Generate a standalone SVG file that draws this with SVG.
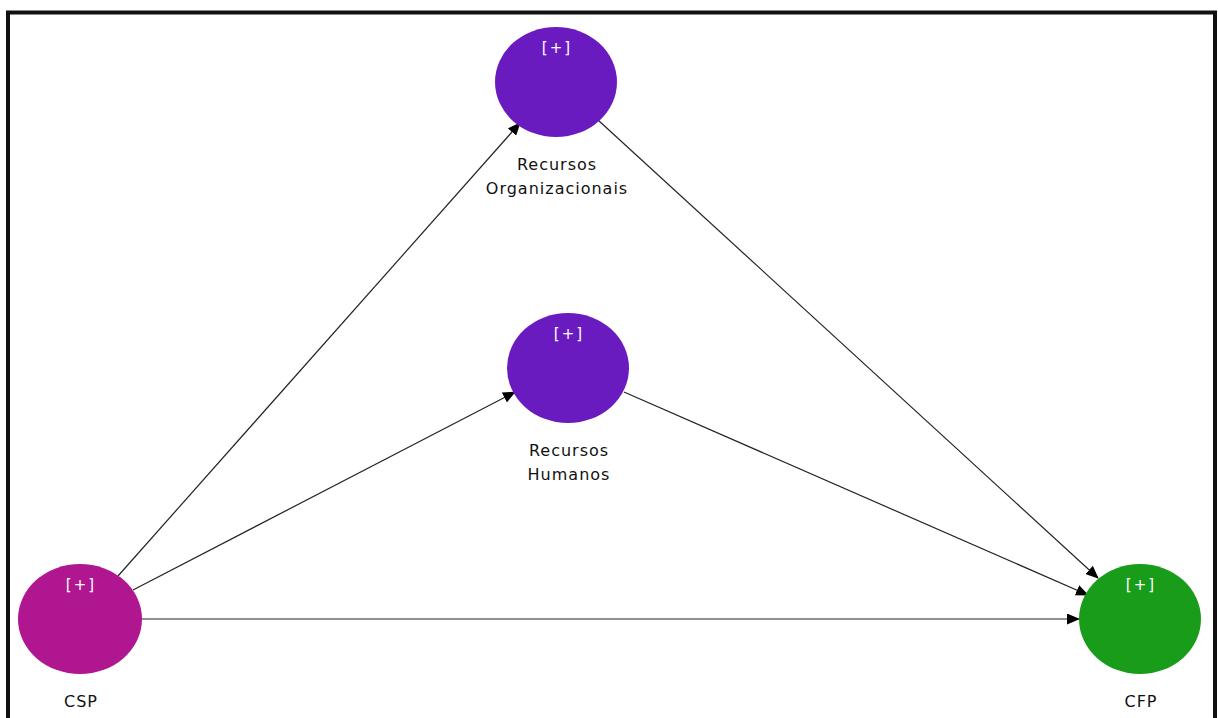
<svg xmlns="http://www.w3.org/2000/svg" width="1218" height="718" viewBox="0 0 1218 718">
  <style>
    .edge { stroke: #222; stroke-width: 1.2; fill: none; marker-end: url(#arrow); }
    .plus { font-family: "DejaVu Sans", sans-serif; font-size: 15px; letter-spacing: 2px; fill: #ffffff; text-anchor: middle; }
    .label { font-family: "DejaVu Sans", sans-serif; font-size: 16px; letter-spacing: 1px; fill: #111; text-anchor: middle; }
  </style>
  <defs>
    <marker id="arrow" viewBox="0 0 13 11" refX="12" refY="5.5" markerWidth="13" markerHeight="11" markerUnits="userSpaceOnUse" orient="auto">
      <path d="M0,0 L13,5.5 L0,11 Z" fill="#000"/>
    </marker>
  </defs>
  <rect x="0" y="0" width="1218" height="718" fill="#ffffff"/>
  <!-- frame -->
  <path d="M8,718 L8,12.5 L1215,12.5 L1215,718" fill="none" stroke="#111" stroke-width="4"/>

  <g id="connectors">
    <line class="edge" x1="118" y1="576" x2="520" y2="123"/>
    <line class="edge" x1="133" y1="590" x2="515" y2="392"/>
    <line class="edge" x1="142" y1="619" x2="1079" y2="619"/>
    <line class="edge" x1="598" y1="120" x2="1098" y2="578"/>
    <line class="edge" x1="624" y1="392" x2="1088" y2="595"/>
  </g>

  <g id="recursos-organizacionais">
    <ellipse cx="556" cy="82" rx="61" ry="55" fill="#6A1BBF"/>
    <text class="plus" x="557" y="53">[+]</text>
    <text class="label" x="557" y="170">Recursos</text>
    <text class="label" x="557" y="194">Organizacionais</text>
  </g>

  <g id="recursos-humanos">
    <ellipse cx="568" cy="368" rx="61" ry="55" fill="#6A1BBF"/>
    <text class="plus" x="569" y="339">[+]</text>
    <text class="label" x="569" y="456">Recursos</text>
    <text class="label" x="569" y="480">Humanos</text>
  </g>

  <g id="csp">
    <ellipse cx="80" cy="619" rx="62" ry="55" fill="#B0168F"/>
    <text class="plus" x="81" y="590">[+]</text>
    <text class="label" x="81" y="707">CSP</text>
  </g>

  <g id="cfp">
    <ellipse cx="1140" cy="619" rx="61" ry="55" fill="#189C1A"/>
    <text class="plus" x="1141" y="590">[+]</text>
    <text class="label" x="1141" y="707">CFP</text>
  </g>
</svg>
